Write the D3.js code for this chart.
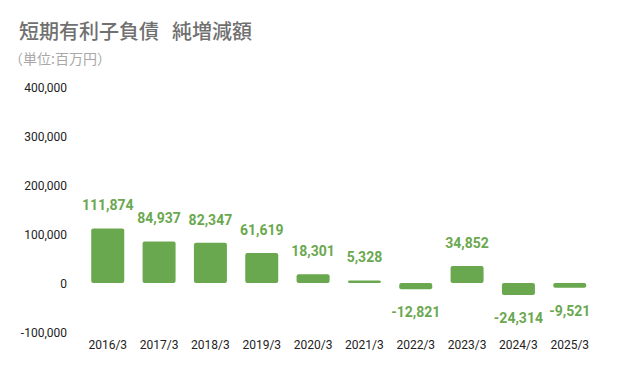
<!DOCTYPE html>
<html><head><meta charset="utf-8">
<script src="https://cdn.jsdelivr.net/npm/d3@7"></script>
<style>body{margin:0;background:#fff;}svg{display:block;}</style>
</head><body>
<svg id="c" width="623" height="371"></svg>
<script>
const categories = ["2016/3","2017/3","2018/3","2019/3","2020/3","2021/3","2022/3","2023/3","2024/3","2025/3"];
const values = [111874, 84937, 82347, 61619, 18301, 5328, -12821, 34852, -24314, -9521];
const yTicks = [-100000, 0, 100000, 200000, 300000, 400000];
const titleParts = ["短期有利子負債", "純増減額"];
const subtitle = "（単位:百万円）";

const svg = d3.select("#c");
const green = "#6aa84f";
const font = "Roboto, 'Noto Sans CJK JP', sans-serif";
const cjk = "'Noto Sans CJK JP', sans-serif";
const fmt = d => d3.format(",")(d).replace("\u2212", "-");

const x = d3.scaleBand().domain(categories).range([82, 595.5]).paddingInner(0.357).paddingOuter(0.18);
const y = d3.scaleLinear().domain([-100000, 400000]).range([332, 87.5]);

const t = svg.append("text").attr("y", 39).attr("font-family", cjk)
  .attr("font-size", 20).attr("fill", "#707070").attr("font-weight", 500);
t.append("tspan").attr("x", 19).text(titleParts[0]);
t.append("tspan").attr("x", 172).text(titleParts[1]);
svg.append("text").attr("x", 9).attr("y", 64).attr("font-family", cjk)
  .attr("font-size", 14).attr("fill", "#a8a8a8").text(subtitle);

const yAxis = d3.axisLeft(y).tickValues(yTicks).tickSize(0).tickPadding(0).tickFormat(fmt);
const ga = svg.append("g").attr("transform", "translate(67,0)").call(yAxis);
ga.select(".domain").remove();
ga.selectAll("text").attr("font-family", font).attr("font-size", 12).attr("fill", "#222").attr("dy", "0.35em");

const xAxis = d3.axisBottom(x).tickSize(0).tickPadding(0);
const gx = svg.append("g").attr("transform", "translate(0,340)").call(xAxis);
gx.select(".domain").remove();
gx.selectAll("text").attr("font-family", font).attr("font-size", 12).attr("fill", "#222").attr("dy", "0.71em");

svg.append("g").selectAll("rect").data(values).join("rect")
  .attr("x", (d,i) => x(categories[i]))
  .attr("width", x.bandwidth())
  .attr("y", d => Math.min(y(d), y(0)))
  .attr("height", d => Math.abs(y(d) - y(0)))
  .attr("rx", 2).attr("fill", green);

svg.append("g").selectAll("text").data(values).join("text")
  .attr("x", (d,i) => x(categories[i]) + x.bandwidth()/2)
  .attr("y", d => d >= 0 ? y(d) - 23 : y(d) + 23)
  .attr("dy", "0.35em")
  .attr("text-anchor", "middle")
  .attr("font-family", font).attr("font-size", 14).attr("font-weight", 700).attr("fill", green)
  .text(fmt);
</script>
</body></html>
